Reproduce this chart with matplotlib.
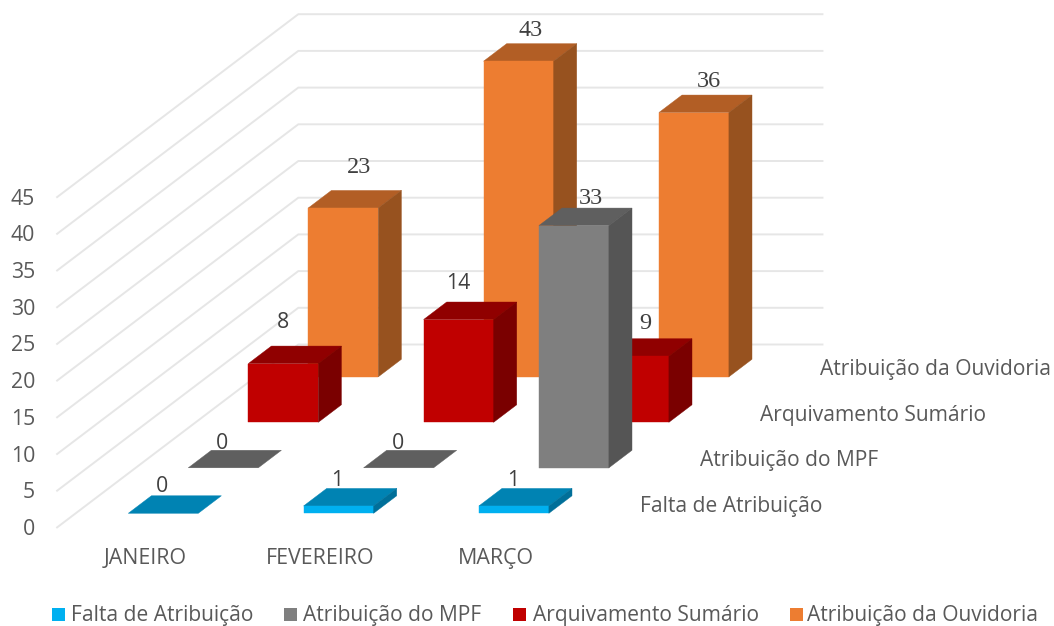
import matplotlib
matplotlib.use("Agg")
import matplotlib.pyplot as plt
from matplotlib.patches import Polygon, Rectangle

months = ["JANEIRO", "FEVEREIRO", "MARÇO"]
series = ["Falta de Atribuição", "Atribuição do MPF", "Arquivamento Sumário", "Atribuição da Ouvidoria"]
falta = [0, 1, 1]
mpf = [0, 0, 33]
arquivamento = [8, 14, 9]
ouvidoria = [23, 43, 36]
value_ticks = [0, 5, 10, 15, 20, 25, 30, 35, 40, 45]

# px per unit, measured on the picture
PX_MONTH = 175.3
PX_VALUE = 7.34
PX_DX = 60.0
PX_DY = 45.5
X0 = 128.3
Y0 = 513.3
BAR_W = 70.0 / PX_MONTH
BAR_D = 0.385

FONT = "Open Sans"
GREY = "#595959"

# front, top, side
colors = [
    ("#00B0F0", "#0083B3", "#006F99"),
    ("#7F7F7F", "#5F5F5F", "#555555"),
    ("#C00000", "#900000", "#7A0000"),
    ("#ED7D31", "#B25E25", "#97521F"),
]


def proj(m, s, v=0.0):
    # month, series depth, value -> data coords of the flat axes
    return (m + s * PX_DX / PX_MONTH, v + s * PX_DY / PX_VALUE)


fig = plt.figure(figsize=(10.54, 6.26), dpi=100)
ax = fig.add_axes([0, 0, 1, 1])
ax.set_xlim(-X0 / PX_MONTH, (1054 - X0) / PX_MONTH)
ax.set_ylim((Y0 - 626) / PX_VALUE, Y0 / PX_VALUE)
ax.axis("off")

# walls
wall_m = -0.30
wall_s0 = -0.31
wall_s1 = 3.71
wall_m1 = 2.69
for v in value_ticks:
    a = proj(wall_m, wall_s0, v)
    b = proj(wall_m, wall_s1, v)
    c = proj(wall_m1, wall_s1, v)
    ax.plot([a[0], b[0], c[0]], [a[1], b[1], c[1]], color="#E6E6E6", lw=1.4, zorder=1)
    ax.annotate(str(v), a, xytext=(-22, -2), textcoords="offset pixels", ha="right", va="center",
                fontsize=15.3, family=FONT, color=GREY)


def draw_bar(m, s, v, cols, z):
    front, top, side = cols
    p = [proj(m, s, v), proj(m + BAR_W, s, v), proj(m + BAR_W, s + BAR_D, v), proj(m, s + BAR_D, v)]
    ax.add_patch(Polygon(p, closed=True, fc=top, ec=top, lw=0.3, zorder=z))
    if v > 0:
        p = [proj(m, s, 0), proj(m + BAR_W, s, 0), proj(m + BAR_W, s, v), proj(m, s, v)]
        ax.add_patch(Polygon(p, closed=True, fc=front, ec=front, lw=0.3, zorder=z))
        p = [proj(m + BAR_W, s, 0), proj(m + BAR_W, s + BAR_D, 0), proj(m + BAR_W, s + BAR_D, v), proj(m + BAR_W, s, v)]
        ax.add_patch(Polygon(p, closed=True, fc=side, ec=side, lw=0.3, zorder=z))


all_values = [falta, mpf, arquivamento, ouvidoria]
z = 2
for s in range(3, -1, -1):
    for m in range(3):
        draw_bar(m, s, all_values[s][m], colors[s], z)
        z += 1

# data labels: pixel offset from middle of the front top edge
label_off = {
    (0, 0): (-1, 27), (0, 1): (-1, 25), (0, 2): (-1, 25),
    (1, 0): (-1, 24), (1, 1): (-1, 24), (1, 2): (17, 27),
    (2, 0): (0, 41), (2, 1): (0, 36), (2, 2): (11, 33),
    (3, 0): (16, 40), (3, 1): (12, 31), (3, 2): (15, 31),
}
serif_labels = {(1, 2), (2, 2), (3, 0), (3, 1), (3, 2)}
for s in range(4):
    for m in range(3):
        v = all_values[s][m]
        fam = "Liberation Serif" if (s, m) in serif_labels else FONT
        ax.annotate(str(v), proj(m + BAR_W / 2, s, v), xytext=label_off[(s, m)], textcoords="offset pixels",
                    ha="center", va="center", fontsize=17.5 if (s, m) in serif_labels else 15.3,
                    family=fam, color="#404040", zorder=50)

# month labels
for m, name in enumerate(months):
    x, y = proj(m, 0, 0)
    ax.annotate(name, (x, y), xytext=(17, -45), textcoords="offset pixels", ha="center", va="center",
                fontsize=15.4, family=FONT, color=GREY)

# series names on the depth axis
for s, name in enumerate(series):
    x, y = proj(2, s, 0)
    ax.annotate(name, (x, y), xytext=(161, 7), textcoords="offset pixels", ha="left", va="center",
                fontsize=15.1, family=FONT, color=GREY)

# legend
leg_fig = [(52, 71), (284, 303), (513, 533), (790, 807)]
for (mx, tx), name, cols in zip(leg_fig, series, colors):
    fig.add_artist(Rectangle((mx / 1054, 1 - 620.5 / 626), 13 / 1054, 13 / 626, fc=cols[0], ec="none",
                             transform=fig.transFigure))
    fig.text(tx / 1054, 1 - 615 / 626, name, ha="left", va="center", fontsize=15.1, family=FONT, color=GREY)

fig.savefig("out.png", dpi=100)
